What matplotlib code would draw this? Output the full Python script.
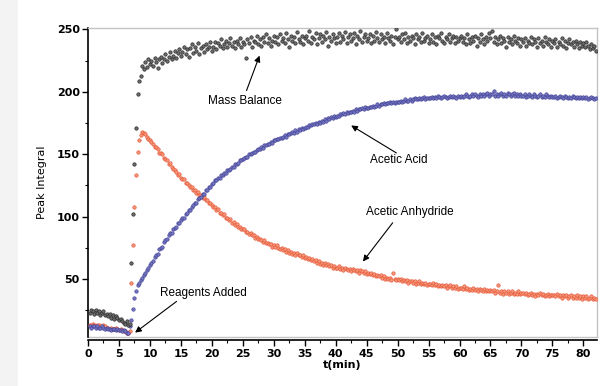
import numpy as np
import matplotlib.pyplot as plt
from matplotlib.patches import Rectangle

# NMR reaction monitoring: peak integrals sampled every 0.25 min
STEP = 0.25

anhydride = [
    13, 13, 14, 13, 12, 13, 13, 12, 12, 13, 12, 11, 11, 10, 11, 10, 10, 11, 10, 9,
    10, 9, 8, 8, 7, 7, 8, 47, 77, 108, 133, 152, 161, 165, 168, 167, 166, 164, 162, 161,
    160, 158, 156, 156, 154, 151, 151, 150, 147, 146, 145, 142, 143, 140, 138, 137, 136, 133, 134, 131,
    130, 130, 127, 127, 125, 124, 124, 121, 121, 119, 120, 117, 117, 115, 116, 113, 113, 111, 111, 109,
    108, 108, 105, 106, 103, 103, 101, 102, 99, 99, 97, 98, 95, 96, 93, 94, 92, 92, 90, 90,
    90, 88, 88, 86, 87, 85, 85, 83, 84, 82, 82, 81, 80, 81, 79, 79, 78, 78, 76, 77,
    76, 77, 75, 74, 75, 73, 74, 72, 73, 71, 72, 70, 71, 69, 71, 69, 69, 68, 69, 67,
    68, 66, 67, 65, 66, 64, 65, 63, 64, 62, 63, 61, 63, 61, 62, 60, 61, 59, 60, 59,
    59, 60, 58, 59, 57, 59, 58, 57, 58, 56, 58, 57, 56, 57, 55, 57, 56, 55, 56, 54,
    55, 54, 55, 53, 54, 52, 53, 52, 53, 51, 52, 50, 51, 50, 51, 49, 55, 50, 49, 50,
    49, 50, 48, 49, 48, 49, 47, 48, 48, 47, 48, 46, 47, 48, 46, 47, 46, 47, 45, 46,
    46, 45, 47, 45, 46, 44, 45, 44, 45, 44, 45, 43, 44, 45, 43, 44, 43, 44, 42, 43,
    43, 42, 44, 42, 43, 41, 42, 41, 43, 41, 42, 40, 42, 41, 40, 42, 40, 41, 40, 41,
    40, 41, 39, 40, 45, 39, 40, 38, 40, 39, 40, 38, 39, 40, 38, 39, 38, 40, 38, 39,
    39, 38, 39, 37, 38, 39, 37, 38, 36, 38, 37, 39, 37, 38, 36, 37, 38, 36, 37, 37,
    37, 36, 38, 36, 37, 35, 37, 36, 37, 35, 36, 37, 35, 36, 35, 37, 35, 36, 34, 36,
    35, 36, 34, 35, 36, 34, 35, 34,
]

acid = [
    12, 11, 12, 12, 11, 12, 11, 11, 12, 11, 10, 11, 10, 10, 9, 10, 10, 9, 10, 9,
    9, 8, 9, 8, 7, 7, 12, 17, 26, 35, 40, 45, 47, 49, 51, 53, 55, 57, 59, 61,
    63, 64, 68, 69, 70, 74, 75, 76, 80, 81, 82, 85, 87, 87, 90, 91, 92, 95, 95, 97,
    99, 99, 102, 103, 105, 105, 108, 109, 111, 111, 114, 115, 116, 118, 118, 121, 121, 124, 124, 126,
    127, 129, 129, 131, 131, 133, 133, 135, 135, 137, 137, 138, 140, 140, 142, 142, 143, 145, 145, 146,
    147, 148, 148, 150, 150, 151, 152, 152, 153, 154, 154, 156, 155, 157, 157, 158, 158, 160, 159, 161,
    161, 162, 162, 163, 163, 164, 165, 164, 166, 166, 167, 168, 167, 169, 168, 170, 169, 171, 170, 171,
    172, 172, 173, 173, 174, 174, 175, 174, 176, 175, 177, 176, 178, 177, 179, 178, 180, 179, 181, 180,
    181, 181, 182, 182, 183, 182, 184, 183, 184, 184, 185, 184, 186, 185, 186, 186, 187, 186, 188, 187,
    187, 188, 188, 189, 188, 189, 190, 189, 190, 190, 191, 190, 191, 191, 192, 191, 192, 191, 192, 192,
    192, 193, 192, 193, 194, 193, 193, 194, 193, 194, 195, 194, 194, 195, 194, 195, 196, 194, 195, 195,
    195, 196, 195, 196, 195, 197, 196, 195, 196, 197, 196, 195, 196, 197, 196, 197, 196, 195, 197, 196,
    197, 196, 197, 198, 197, 196, 197, 198, 197, 198, 197, 196, 198, 197, 198, 197, 198, 199, 197, 198,
    198, 201, 197, 198, 197, 198, 199, 197, 198, 197, 199, 198, 197, 198, 199, 197, 198, 197, 198, 197,
    197, 198, 196, 197, 198, 197, 196, 198, 197, 196, 197, 198, 196, 197, 196, 198, 197, 196, 197, 196,
    196, 197, 195, 196, 197, 196, 195, 197, 196, 195, 196, 195, 197, 196, 195, 196, 195, 196, 195, 196,
    195, 196, 194, 195, 196, 195, 194, 195,
]

mass_balance = [
    23, 25, 24, 22, 25, 23, 24, 21, 23, 24, 21, 22, 20, 22, 19, 21, 18, 20, 19, 17,
    18, 16, 15, 14, 16, 13, 14, 63, 102, 142, 171, 198, 209, 213, 221, 218, 224, 220, 226, 222,
    225, 221, 227, 224, 219, 226, 228, 223, 226, 230, 225, 228, 232, 226, 229, 233, 227, 231, 234, 229,
    232, 236, 230, 234, 228, 235, 238, 231, 236, 233, 239, 230, 235, 237, 232, 238, 234, 236, 240, 233,
    236, 240, 234, 239, 237, 242, 235, 238, 241, 236, 239, 243, 237, 240, 235, 241, 238, 243, 236, 240,
    238, 227, 242, 239, 244, 236, 241, 240, 245, 238, 242, 237, 244, 240, 246, 239, 243, 237, 241, 245,
    240, 244, 238, 246, 241, 243, 239, 247, 242, 236, 245, 241, 244, 239, 248, 242, 240, 245, 238, 243,
    245, 241, 249, 239, 244, 242, 247, 238, 243, 246, 240, 245, 242, 248, 237, 244, 241, 246, 243, 239,
    244, 247, 240, 245, 242, 248, 239, 244, 246, 241, 243, 247, 238, 245, 242, 249, 240, 244, 246, 241,
    243, 246, 239, 245, 241, 248, 243, 240, 246, 242, 244, 239, 247, 243, 241, 245, 238, 244, 250, 242,
    244, 240, 246, 242, 247, 239, 244, 241, 245, 243, 238, 246, 242, 244, 240, 247, 241, 243, 245, 239,
    242, 246, 240, 244, 238, 245, 243, 247, 241, 239, 244, 242, 246, 240, 243, 245, 239, 244, 241, 243,
    245, 240, 243, 238, 246, 242, 239, 244, 241, 245, 237, 243, 240, 246, 242, 238, 244, 241, 247, 243,
    249, 240, 244, 238, 242, 245, 239, 243, 241, 236, 244, 240, 242, 238, 245, 241, 239, 243, 237, 242,
    240, 243, 237, 241, 239, 244, 238, 242, 240, 236, 243, 239, 241, 237, 244, 240, 238, 242, 236, 241,
    239, 242, 236, 240, 238, 243, 237, 241, 235, 239, 242, 238, 240, 236, 241, 238, 235, 240, 237, 239,
    236, 240, 237, 234, 238, 235, 237, 233,
]

t = STEP * np.arange(1, len(mass_balance) + 1)

fig = plt.figure(figsize=(6.07, 3.86), dpi=100)
fig.patches.append(Rectangle((0, 0), 18 / 607, 1, transform=fig.transFigure,
                             facecolor="#f3f3f3", edgecolor="none", zorder=0))
ax = fig.add_axes([0.145, 0.127, 0.8385, 0.800])

ax.scatter(t, anhydride, s=6, facecolor="#f59a7c", edgecolor="#e8583a", linewidth=0.5, zorder=3)
ax.scatter(t, acid, s=6, facecolor="#7878c0", edgecolor="#44449a", linewidth=0.5, zorder=3)
ax.scatter(t, mass_balance, s=6, facecolor="#6e6e6e", edgecolor="#2a2a2a", linewidth=0.5, zorder=4)

ax.set_xlim(0, 82.2)
ax.set_ylim(3.5, 251)

ax.set_xticks(np.arange(0, 81, 5))
ax.set_xticks(np.arange(2.5, 82, 5), minor=True)
ax.set_yticks([50, 100, 150, 200, 250])
ax.set_yticks([25, 75, 125, 175, 225], minor=True)

for side in ("top", "right"):
    ax.spines[side].set_color("#c4c4c4")
    ax.spines[side].set_linewidth(1.0)
ax.spines["left"].set_color("black")
ax.spines["left"].set_linewidth(1.2)
ax.spines["bottom"].set_color("black")
ax.spines["bottom"].set_linewidth(1.2)
ax.spines["bottom"].set_position(("outward", 2.5))
ax.plot([0, 1], [0, 0], transform=ax.transAxes, color="#c4c4c4", lw=1.0, clip_on=False)

ax.tick_params(which="major", direction="out", length=4, width=1.0, pad=2)
ax.tick_params(which="minor", direction="out", length=2.5, width=0.8)
for lab in ax.get_xticklabels() + ax.get_yticklabels():
    lab.set_fontfamily("DejaVu Sans")
    lab.set_fontweight("bold")
    lab.set_fontsize(8)

ax.set_xlabel("t(min)", fontsize=8, fontweight="bold", labelpad=1)
ax.set_ylabel("Peak Integral", fontsize=8, labelpad=7)

arrow = dict(arrowstyle="-|>", color="black", lw=0.8, mutation_scale=9, shrinkA=0, shrinkB=0)
txt = dict(fontsize=8.5, family="Liberation Sans", ha="center", va="center")
ax.annotate("", xy=(27.7, 229), xytext=(25.6, 201), arrowprops=arrow)
ax.text(25.3, 193, "Mass Balance", **txt)
ax.annotate("", xy=(42.5, 173), xytext=(49.8, 151), arrowprops=arrow)
ax.text(50.2, 145, "Acetic Acid", **txt)
ax.annotate("", xy=(44.4, 64), xytext=(49.2, 95), arrowprops=arrow)
ax.text(51.9, 103.6, "Acetic Anhydride", **txt)
ax.annotate("", xy=(7.6, 7), xytext=(14.3, 32), arrowprops=arrow)
ax.text(18.7, 38.8, "Reagents Added", **txt)

fig.savefig("out.png", dpi=100)
